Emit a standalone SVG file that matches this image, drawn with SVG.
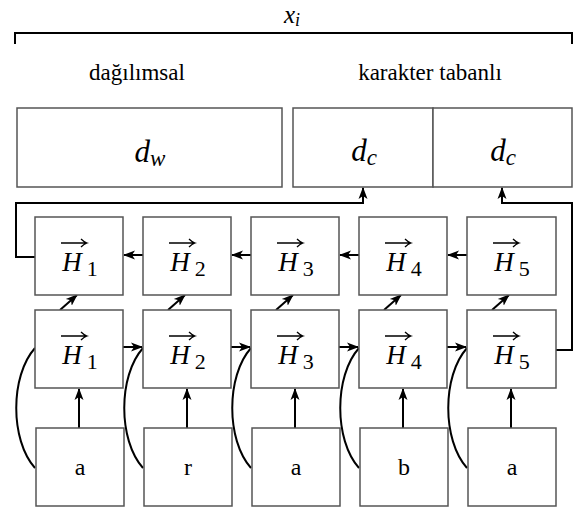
<svg xmlns="http://www.w3.org/2000/svg" width="579" height="512" viewBox="0 0 579 512" font-family="'Liberation Serif', 'Times New Roman', serif">
<defs>
<style>
.box{fill:#fff;stroke:#555;stroke-width:1.5}
.con{fill:none;stroke:#000;stroke-width:2}
.ovr{fill:none;stroke:#000;stroke-width:1.3}
.lbl{font-size:23px;text-anchor:middle}
.inp{font-size:24px;text-anchor:middle}
.m{font-size:27px;text-anchor:middle}
.it{font-style:italic}
.sub{font-size:22px}
</style>
<marker id="ah" markerUnits="userSpaceOnUse" markerWidth="12" markerHeight="10" viewBox="0 0 12 10" refX="11" refY="5" orient="auto">
<path d="M0,0.5 L12,5 L0,9.5 L3,5 z" fill="#000"/>
</marker>
<g id="ovarrow"><path d="M-18,0 H7 M2,-4 Q5,-1 8,0 Q5,1 2,4"/></g>
</defs>

<g id="top">
<path class="con" d="M15,44 V33 H572 V44"/>
<text x="292" y="23" font-size="25" text-anchor="middle"><tspan class="it">x</tspan><tspan class="it" dy="3" font-size="18">i</tspan></text>
<text class="lbl" x="137" y="80">dağılımsal</text>
<text class="lbl" x="430" y="80">karakter tabanlı</text>
</g>

<g id="dw">
<rect class="box" x="17" y="108" width="265" height="79"/>
<text x="150" y="162" font-size="31" text-anchor="middle"><tspan class="it">d</tspan><tspan class="it" dy="4" font-size="23">w</tspan></text>
</g>
<g id="dc1">
<rect class="box" x="293" y="108" width="140" height="79"/>
<text x="364" y="161" font-size="31" text-anchor="middle"><tspan class="it">d</tspan><tspan class="it" dy="4" font-size="23">c</tspan></text>
</g>
<g id="dc2">
<rect class="box" x="433" y="108" width="139" height="79"/>
<text x="503" y="161" font-size="31" text-anchor="middle"><tspan class="it">d</tspan><tspan class="it" dy="4" font-size="23">c</tspan></text>
</g>

<g id="connectors">
<path class="con" d="M35,257 H16 V203 H363 V188" marker-end="url(#ah)"/>
<path class="con" d="M556,350 H572 V203 H502 V188" marker-end="url(#ah)"/>
<path class="con" d="M143,255 H124" marker-end="url(#ah)"/>
<path class="con" d="M251,255 H232" marker-end="url(#ah)"/>
<path class="con" d="M359,255 H340" marker-end="url(#ah)"/>
<path class="con" d="M467,255 H448" marker-end="url(#ah)"/>
<path class="con" d="M123,347 H142" marker-end="url(#ah)"/>
<path class="con" d="M231,347 H250" marker-end="url(#ah)"/>
<path class="con" d="M339,347 H358" marker-end="url(#ah)"/>
<path class="con" d="M447,347 H466" marker-end="url(#ah)"/>
<path class="con" d="M60,310 L77,295" marker-end="url(#ah)"/>
<path class="con" d="M168,310 L185,295" marker-end="url(#ah)"/>
<path class="con" d="M276,310 L293,295" marker-end="url(#ah)"/>
<path class="con" d="M384,310 L401,295" marker-end="url(#ah)"/>
<path class="con" d="M492,310 L509,295" marker-end="url(#ah)"/>
<path class="con" d="M79,428 V389" marker-end="url(#ah)"/>
<path class="con" d="M187,428 V389" marker-end="url(#ah)"/>
<path class="con" d="M295,428 V389" marker-end="url(#ah)"/>
<path class="con" d="M403,428 V389" marker-end="url(#ah)"/>
<path class="con" d="M511,428 V389" marker-end="url(#ah)"/>
<path class="con" d="M35,468 C10,440 10,376 35,348"/>
<path class="con" d="M143,468 C118,440 118,376 143,348"/>
<path class="con" d="M251,468 C226,440 226,376 251,348"/>
<path class="con" d="M359,468 C334,440 334,376 359,348"/>
<path class="con" d="M467,468 C442,440 442,376 467,348"/>
</g>

<g id="hb1"><rect class="box" x="35" y="217" width="88" height="78"/><text class="m" x="80" y="271"><tspan class="it">H</tspan><tspan class="sub" dx="5" dy="5">1</tspan></text><use href="#ovarrow" class="ovr" x="79" y="243"/></g>
<g id="hb2"><rect class="box" x="143" y="217" width="88" height="78"/><text class="m" x="188" y="271"><tspan class="it">H</tspan><tspan class="sub" dx="5" dy="5">2</tspan></text><use href="#ovarrow" class="ovr" x="187" y="243"/></g>
<g id="hb3"><rect class="box" x="251" y="217" width="88" height="78"/><text class="m" x="296" y="271"><tspan class="it">H</tspan><tspan class="sub" dx="5" dy="5">3</tspan></text><use href="#ovarrow" class="ovr" x="295" y="243"/></g>
<g id="hb4"><rect class="box" x="359" y="217" width="88" height="78"/><text class="m" x="404" y="271"><tspan class="it">H</tspan><tspan class="sub" dx="5" dy="5">4</tspan></text><use href="#ovarrow" class="ovr" x="403" y="243"/></g>
<g id="hb5"><rect class="box" x="467" y="217" width="89" height="78"/><text class="m" x="512" y="271"><tspan class="it">H</tspan><tspan class="sub" dx="5" dy="5">5</tspan></text><use href="#ovarrow" class="ovr" x="511" y="243"/></g>

<g id="hf1"><rect class="box" x="35" y="310" width="88" height="78"/><text class="m" x="80" y="364"><tspan class="it">H</tspan><tspan class="sub" dx="5" dy="5">1</tspan></text><use href="#ovarrow" class="ovr" x="79" y="336"/></g>
<g id="hf2"><rect class="box" x="143" y="310" width="88" height="78"/><text class="m" x="188" y="364"><tspan class="it">H</tspan><tspan class="sub" dx="5" dy="5">2</tspan></text><use href="#ovarrow" class="ovr" x="187" y="336"/></g>
<g id="hf3"><rect class="box" x="251" y="310" width="88" height="78"/><text class="m" x="296" y="364"><tspan class="it">H</tspan><tspan class="sub" dx="5" dy="5">3</tspan></text><use href="#ovarrow" class="ovr" x="295" y="336"/></g>
<g id="hf4"><rect class="box" x="359" y="310" width="88" height="78"/><text class="m" x="404" y="364"><tspan class="it">H</tspan><tspan class="sub" dx="5" dy="5">4</tspan></text><use href="#ovarrow" class="ovr" x="403" y="336"/></g>
<g id="hf5"><rect class="box" x="467" y="310" width="89" height="78"/><text class="m" x="512" y="364"><tspan class="it">H</tspan><tspan class="sub" dx="5" dy="5">5</tspan></text><use href="#ovarrow" class="ovr" x="511" y="336"/></g>

<g id="in1"><rect class="box" x="36" y="428" width="88" height="78"/><text class="inp" x="80" y="475">a</text></g>
<g id="in2"><rect class="box" x="144" y="428" width="88" height="78"/><text class="inp" x="188" y="475">r</text></g>
<g id="in3"><rect class="box" x="252" y="428" width="88" height="78"/><text class="inp" x="296" y="475">a</text></g>
<g id="in4"><rect class="box" x="360" y="428" width="88" height="78"/><text class="inp" x="404" y="475">b</text></g>
<g id="in5"><rect class="box" x="468" y="428" width="88" height="78"/><text class="inp" x="512" y="475">a</text></g>
</svg>
